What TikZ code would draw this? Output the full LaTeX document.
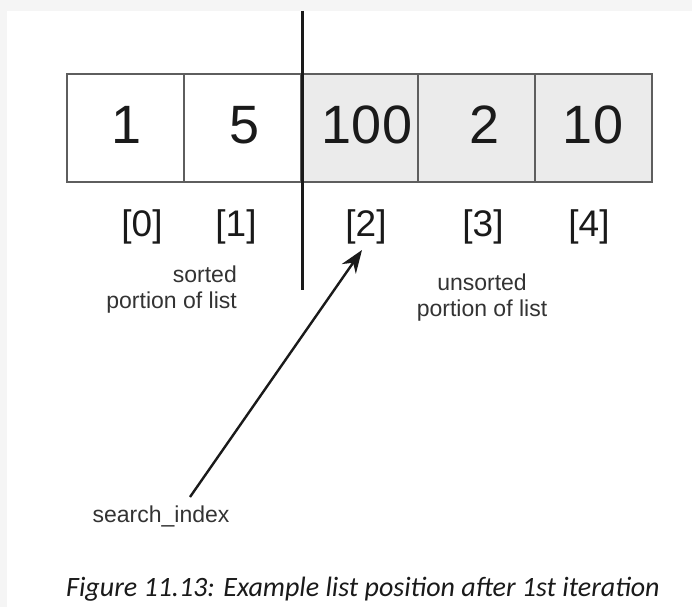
\documentclass[tikz,border=0pt]{standalone}
\usepackage{fontspec}
\setmainfont{Liberation Sans}
\newfontfamily\capfont{Carlito}
\usetikzlibrary{arrows.meta}
\definecolor{cellgrey}{HTML}{EBEBEB}
\definecolor{cellline}{HTML}{5E5E5E}
\definecolor{bandgrey}{HTML}{F5F5F5}
\definecolor{ink}{HTML}{1A1A1A}
\tikzset{
  cell/.style={draw=cellline, line width=1.8pt, minimum width=117pt, minimum height=108pt, inner sep=0pt, outer sep=0pt},
  sortedcell/.style={cell, fill=white},
  unsortedcell/.style={cell, fill=cellgrey},
  num/.style={font=\fontsize{54}{60}\selectfont, text=ink, anchor=base, inner sep=0pt},
  idx/.style={font=\fontsize{37}{42}\selectfont, text=ink, anchor=base, inner sep=0pt},
  note/.style={font=\fontsize{23}{26}\selectfont, text=black!80, inner sep=0pt},
}
\begin{document}
\begin{tikzpicture}[x=1pt,y=-1pt]
\useasboundingbox (0,0) rectangle (692,607);
\fill[bandgrey] (0,0) rectangle (692,607);
\fill[white] (7,11) rectangle (692,607);
% cells
\node[sortedcell, anchor=north west] (c0) at (67,74) {};
\node[sortedcell, anchor=north west] (c1) at (184,74) {};
\node[unsortedcell, anchor=north west] (c2) at (301,74) {};
\node[unsortedcell, anchor=north west] (c3) at (418,74) {};
\node[unsortedcell, anchor=north west] (c4) at (535,74) {};
% values
\node[num] (v0) at (127,143) {1};
\node[num] (v1) at (245,143) {5};
\node[num] (v2) at (367,143) {100};
\node[num] (v3) at (485,143) {2};
\node[num] (v4) at (593,143) {10};
% indices
\node[idx] (i0) at (142,236) {[0]};
\node[idx] (i1) at (236,236) {[1]};
\node[idx] (i2) at (366,236) {[2]};
\node[idx] (i3) at (483,236) {[3]};
\node[idx] (i4) at (589,236) {[4]};
% divider
\coordinate (dtop) at (302,11);
\coordinate (dbot) at (302,290);
\draw[ink, line width=3pt] (dtop) -- (dbot);
% notes
\node[note, align=right, anchor=base east] (sorted) at (237,308) {sorted\\portion of list};
\node[note, align=center, anchor=base] (unsorted) at (482,316) {unsorted\\portion of list};
% arrow
\node[note, anchor=base] (search) at (161,522) {search\_index};
\coordinate (astart) at (190,497);
\coordinate (atip) at (362,250);
\draw[ink, line width=2.4pt, -{Stealth[length=23pt,width=17pt]}] (astart) -- (atip);
% caption
\node[font=\capfont\itshape\fontsize{28}{32}\selectfont, text=ink, anchor=base west, inner sep=0pt] (cap) at (66,596) {Figure 11.13: Example list position after 1st iteration};
\end{tikzpicture}
\end{document}
